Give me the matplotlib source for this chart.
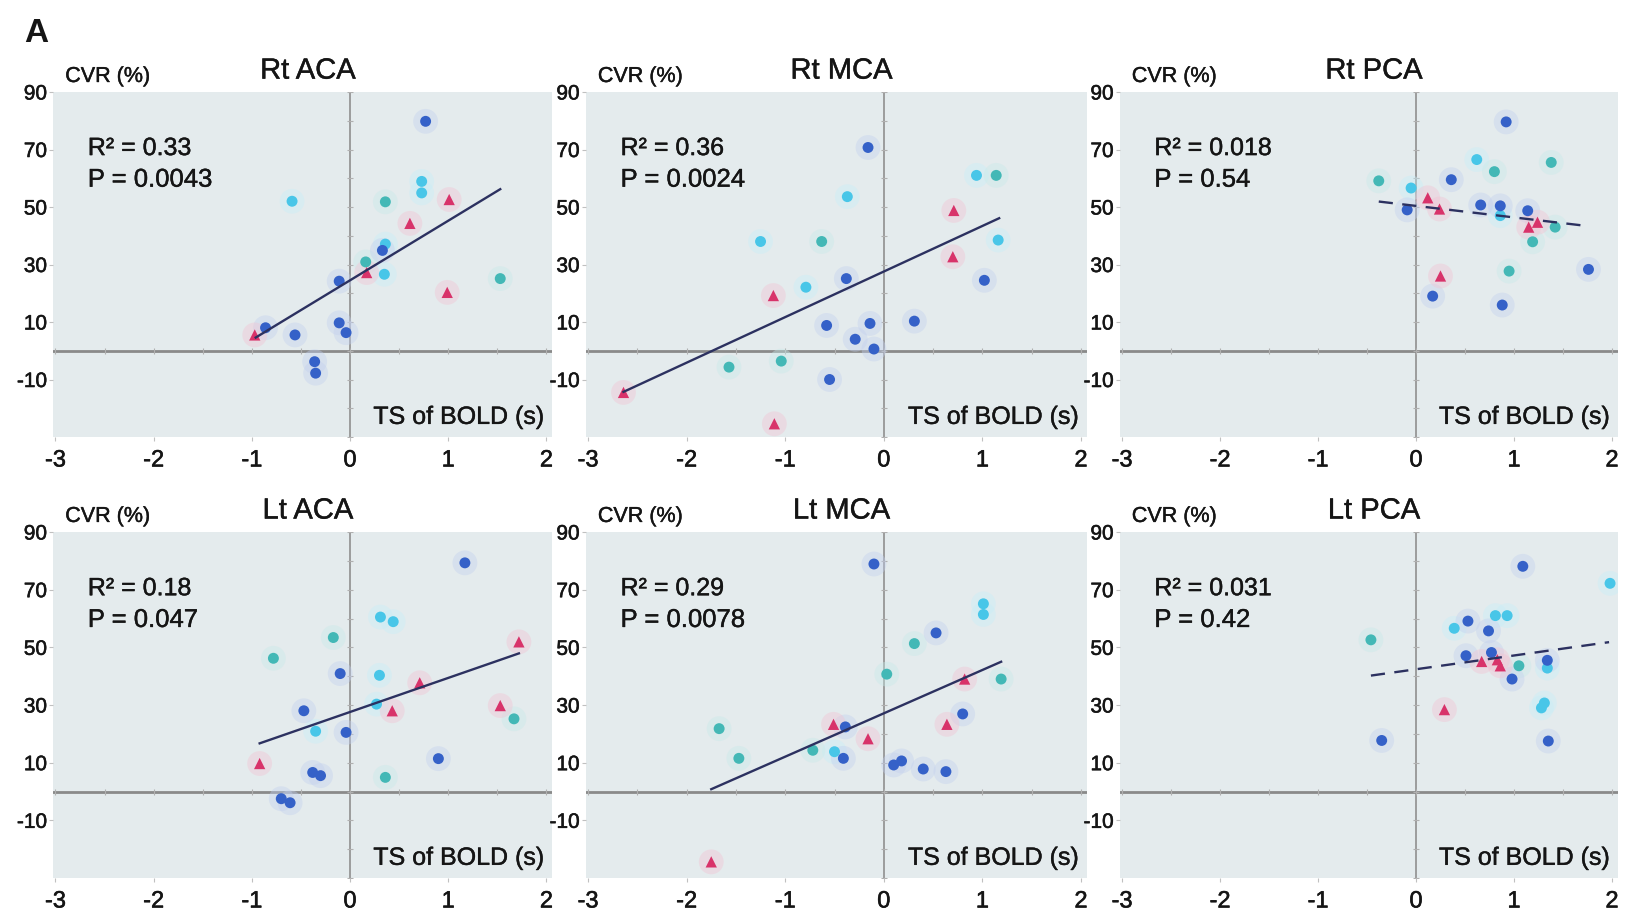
import matplotlib
matplotlib.use("Agg")
import matplotlib.pyplot as plt
import matplotlib.patheffects as pe
import matplotlib.transforms as mtransforms
import matplotlib.colors as mcolors
import numpy as np

plt.rcParams['font.family'] = ['Liberation Sans', 'DejaVu Sans']
plt.rcParams['axes.unicode_minus'] = False

# ---------------- data ----------------
# groups: b = blue circle, c = cyan circle, t = teal circle, r = red triangle
rt_aca_x = [0.77, -0.59, 0.73, 0.73, 0.36, 1.01, 0.61, 0.36, 0.33, 0.16, 0.17, 0.35, 1.53, 0.99,
            -0.11, -0.11, -0.04, -0.86, -0.97, -0.56, -0.36, -0.35]
rt_aca_y = [79.8, 52.0, 58.9, 54.9, 51.8, 52.6, 44.3, 37.1, 34.9, 30.9, 27.2, 26.6, 25.1, 20.3,
            24.2, 9.7, 6.3, 8.0, 5.5, 5.5, -3.8, -7.8]
rt_aca_g = ['b', 'c', 'c', 'c', 't', 'r', 'r', 'c', 'b', 't', 'r', 'c', 't', 'r',
            'b', 'b', 'b', 'b', 'r', 'b', 'b', 'b']

rt_mca_x = [-0.16, 0.94, 1.14, -0.37, 0.71, -1.25, -0.63, 1.16, 0.70, -0.38, 1.02, -0.79,
            -1.12, -0.58, -0.14, 0.31, -0.29, -0.10, -1.57, -1.04, -0.55, -2.64, -1.11]
rt_mca_y = [70.7, 61.0, 61.0, 53.6, 48.8, 38.0, 38.0, 38.5, 32.7, 25.1, 24.5, 22.1,
            19.2, 8.8, 9.5, 10.3, 4.0, 0.6, -5.7, -3.6, -10.0, -14.5, -25.4]
rt_mca_g = ['b', 'c', 't', 'c', 'r', 'c', 't', 'c', 'r', 'b', 'b', 'c',
            'r', 'b', 'b', 'b', 'b', 'b', 't', 't', 'b', 'r', 'r']

rt_pca_x = [0.92, 0.62, 1.38, 0.80, -0.38, -0.05, 0.36, 0.12, -0.09, 0.24, 0.66, 0.86, 0.86,
            1.14, 1.15, 1.24, 1.42, 1.19, 0.95, 1.76, 0.25, 0.17, 0.88]
rt_pca_y = [79.6, 66.5, 65.5, 62.3, 59.1, 56.6, 59.5, 53.2, 49.0, 49.3, 50.7, 50.4, 47.0,
            48.7, 43.0, 44.7, 43.0, 37.9, 27.7, 28.3, 26.0, 19.0, 15.9]
rt_pca_g = ['b', 'c', 't', 't', 't', 'c', 'b', 'r', 'b', 'r', 'b', 'b', 'c',
            'b', 'r', 'r', 't', 't', 't', 'b', 'r', 'b', 'b']

lt_aca_x = [1.17, 0.31, 0.44, -0.17, 1.72, -0.78, -0.10, 0.30, 0.71, 0.27, -0.47, 0.43, 1.53,
            1.67, -0.35, -0.04, 0.90, -0.92, -0.38, -0.30, 0.36, -0.70, -0.61]
lt_aca_y = [79.3, 60.5, 58.9, 53.4, 51.9, 46.2, 40.9, 40.3, 37.7, 30.3, 28.0, 28.0, 29.8,
            25.2, 20.9, 20.5, 11.4, 9.7, 6.6, 5.5, 4.9, -2.5, -3.9]
lt_aca_g = ['b', 'c', 'c', 't', 'r', 't', 'b', 'c', 'r', 'c', 'b', 'r', 'r',
            't', 'c', 'b', 'b', 'r', 'b', 'b', 't', 'b', 'b']

lt_mca_x = [-0.10, 1.01, 1.01, 0.53, 0.31, 0.03, 0.82, 1.19, 0.80, -1.67, -0.51, -0.39, 0.64,
            -0.16, -0.72, -0.50, -0.41, -1.47, 0.10, 0.18, 0.40, 0.63, -1.75]
lt_mca_y = [78.9, 65.1, 61.4, 55.0, 51.3, 40.7, 39.0, 39.0, 26.9, 21.8, 23.3, 22.4, 23.3,
            18.3, 14.3, 13.8, 11.5, 11.5, 9.2, 10.6, 7.8, 6.9, -24.4]
lt_mca_g = ['b', 'c', 'c', 'b', 't', 't', 'r', 't', 'b', 't', 'r', 'b', 'r',
            'r', 't', 'c', 'b', 't', 'b', 'b', 'b', 'b', 'r']

lt_pca_x = [1.09, 1.98, 0.81, 0.93, 0.53, 0.39, 0.74, -0.46, 0.51, 0.77, 0.67, 0.83, 0.86,
            1.34, 1.34, 1.05, 0.98, 1.31, 1.28, 0.29, -0.35, 1.35]
lt_pca_y = [78.1, 72.2, 61.0, 61.0, 59.1, 56.6, 55.7, 52.6, 47.1, 48.2, 45.1, 45.7, 43.6,
            45.5, 42.8, 43.6, 39.0, 30.7, 29.0, 28.4, 17.7, 17.5]
lt_pca_g = ['b', 'c', 'c', 'c', 'b', 'c', 'b', 't', 'b', 'b', 'r', 'r', 'r',
            'b', 'c', 't', 'b', 'c', 'c', 'r', 'b', 'b']

# regression lines (endpoints)
rt_aca_fit_x, rt_aca_fit_y = [-0.96, 1.53], [4.6, 56.2]
rt_mca_fit_x, rt_mca_fit_y = [-2.64, 1.17], [-14.3, 46.1]
rt_pca_fit_x, rt_pca_fit_y = [-0.38, 1.77], [51.9, 43.3]
lt_aca_fit_x, lt_aca_fit_y = [-0.92, 1.72], [16.7, 47.9]
lt_mca_fit_x, lt_mca_fit_y = [-1.75, 1.19], [0.8, 45.0]
lt_pca_fit_x, lt_pca_fit_y = [-0.46, 1.97], [40.2, 51.8]

titles = ['Rt ACA', 'Rt MCA', 'Rt PCA', 'Lt ACA', 'Lt MCA', 'Lt PCA']
r2_labels = ['R² = 0.33', 'R² = 0.36', 'R² = 0.018', 'R² = 0.18', 'R² = 0.29', 'R² = 0.031']
p_labels = ['P = 0.0043', 'P = 0.0024', 'P = 0.54', 'P = 0.047', 'P = 0.0078', 'P = 0.42']
significant = [True, True, False, True, True, False]

x_ticks = [-3, -2, -1, 0, 1, 2]
y_ticks = [90, 70, 50, 30, 10, -10]

panels = [
    (rt_aca_x, rt_aca_y, rt_aca_g, rt_aca_fit_x, rt_aca_fit_y),
    (rt_mca_x, rt_mca_y, rt_mca_g, rt_mca_fit_x, rt_mca_fit_y),
    (rt_pca_x, rt_pca_y, rt_pca_g, rt_pca_fit_x, rt_pca_fit_y),
    (lt_aca_x, lt_aca_y, lt_aca_g, lt_aca_fit_x, lt_aca_fit_y),
    (lt_mca_x, lt_mca_y, lt_mca_g, lt_mca_fit_x, lt_mca_fit_y),
    (lt_pca_x, lt_pca_y, lt_pca_g, lt_pca_fit_x, lt_pca_fit_y),
]

# ---------------- style ----------------
colors = {'b': '#3561c8', 'c': '#48c6e8', 't': '#43b8b6', 'r': '#d8336a'}
markers = {'b': 'o', 'c': 'o', 't': 'o', 'r': '^'}
bg = '#e4ebed'
txt = '#151515'
W, H = 1627, 914
thick = [pe.withStroke(linewidth=0.3, foreground=txt)]

fig = plt.figure(figsize=(W / 100, H / 100), dpi=100)

XLIM = (-3.02, 2.06)
# (pixel position of x=-3, pixels per x unit) for each column
col_px = [(55.4, 98.2), (588.0, 98.6), (1122.0, 98.0)]
row_px = [(92, 437), (532, 878)]

minor_x = np.arange(-3, 2.01, 0.5)
minor_y = np.arange(-30, 90.1, 10)

for i, (xs, ys, gs, fx, fy) in enumerate(panels):
    r, c = divmod(i, 3)
    x3, unit = col_px[c]
    lpx = x3 + (XLIM[0] + 3) * unit
    wpx = (XLIM[1] - XLIM[0]) * unit
    tpx, bpx = row_px[r]
    ax = fig.add_axes([lpx / W, 1 - bpx / H, wpx / W, (bpx - tpx) / H])
    ax.set_facecolor(bg)
    for s in ax.spines.values():
        s.set_visible(False)
    ax.set_xlim(*XLIM)
    ax.set_ylim(-30, 90)
    ax.set_xticks(x_ticks)
    ax.set_yticks(y_ticks)
    ax.tick_params(axis='both', color='#c0c0c0', length=3, width=0.8, labelcolor=txt)
    ax.tick_params(axis='x', pad=6, labelsize=17)
    ax.tick_params(axis='y', pad=1.5, labelsize=15)
    for lab in ax.get_xticklabels() + ax.get_yticklabels():
        lab.set_path_effects([pe.withStroke(linewidth=0.4, foreground=txt)])

    # crosshair axes through zero
    ax.axhline(0, color='#8a8a8a', lw=2.0, zorder=1)
    ax.axvline(0, color='#8f8f8f', lw=1.2, zorder=1)
    ax.plot(minor_x, np.zeros_like(minor_x), ls='none', marker='|',
            ms=4, color='#b0b0b0', mew=0.8, zorder=1)
    ax.plot(np.zeros_like(minor_y), minor_y, ls='none', marker='_',
            ms=4, color='#b0b0b0', mew=0.8, zorder=1)

    xs = np.array(xs); ys = np.array(ys); gs = np.array(gs)
    for g in ['c', 't', 'b', 'r']:
        m = gs == g
        rgb = np.array(mcolors.to_rgb(colors[g]))
        pale = tuple(rgb * 0.3 + 0.7)
        # soft pale halo
        ax.scatter(xs[m], ys[m], s=320, marker='o', color=pale, alpha=0.4,
                   edgecolors='none', zorder=2)
        ax.scatter(xs[m], ys[m], s=62 if g != 'r' else 66, marker=markers[g],
                   color=colors[g], edgecolors='none', zorder=3)

    ax.plot(fx, fy, color='#2c3160', lw=1.7, zorder=4,
            ls='-' if significant[i] else (0, (6, 4)))

    ax.text(-2.67, 70.5, r2_labels[i], fontsize=18, va='center', ha='left', color=txt,
            path_effects=thick)
    ax.text(-2.67, 59.5, p_labels[i], fontsize=18.5, va='center', ha='left', color=txt,
            path_effects=thick)
    ax.text(1.98, -23, 'TS of BOLD (s)', fontsize=18, va='center', ha='right', color=txt,
            path_effects=thick)
    trans = mtransforms.blended_transform_factory(ax.transData, ax.transAxes)
    ax.text(-2.9, 1.045, 'CVR (%)', transform=trans, fontsize=15.5,
            va='center', ha='left', color=txt, path_effects=thick)
    ax.text(-0.43, 1.062, titles[i], transform=trans, fontsize=21,
            va='center', ha='center', color=txt, path_effects=thick)

fig.text(24 / W, 1 - 34 / H, 'A', fontsize=24, fontweight='bold', va='center', ha='left',
         color=txt)

fig.savefig('out.png', dpi=100, facecolor='white')
